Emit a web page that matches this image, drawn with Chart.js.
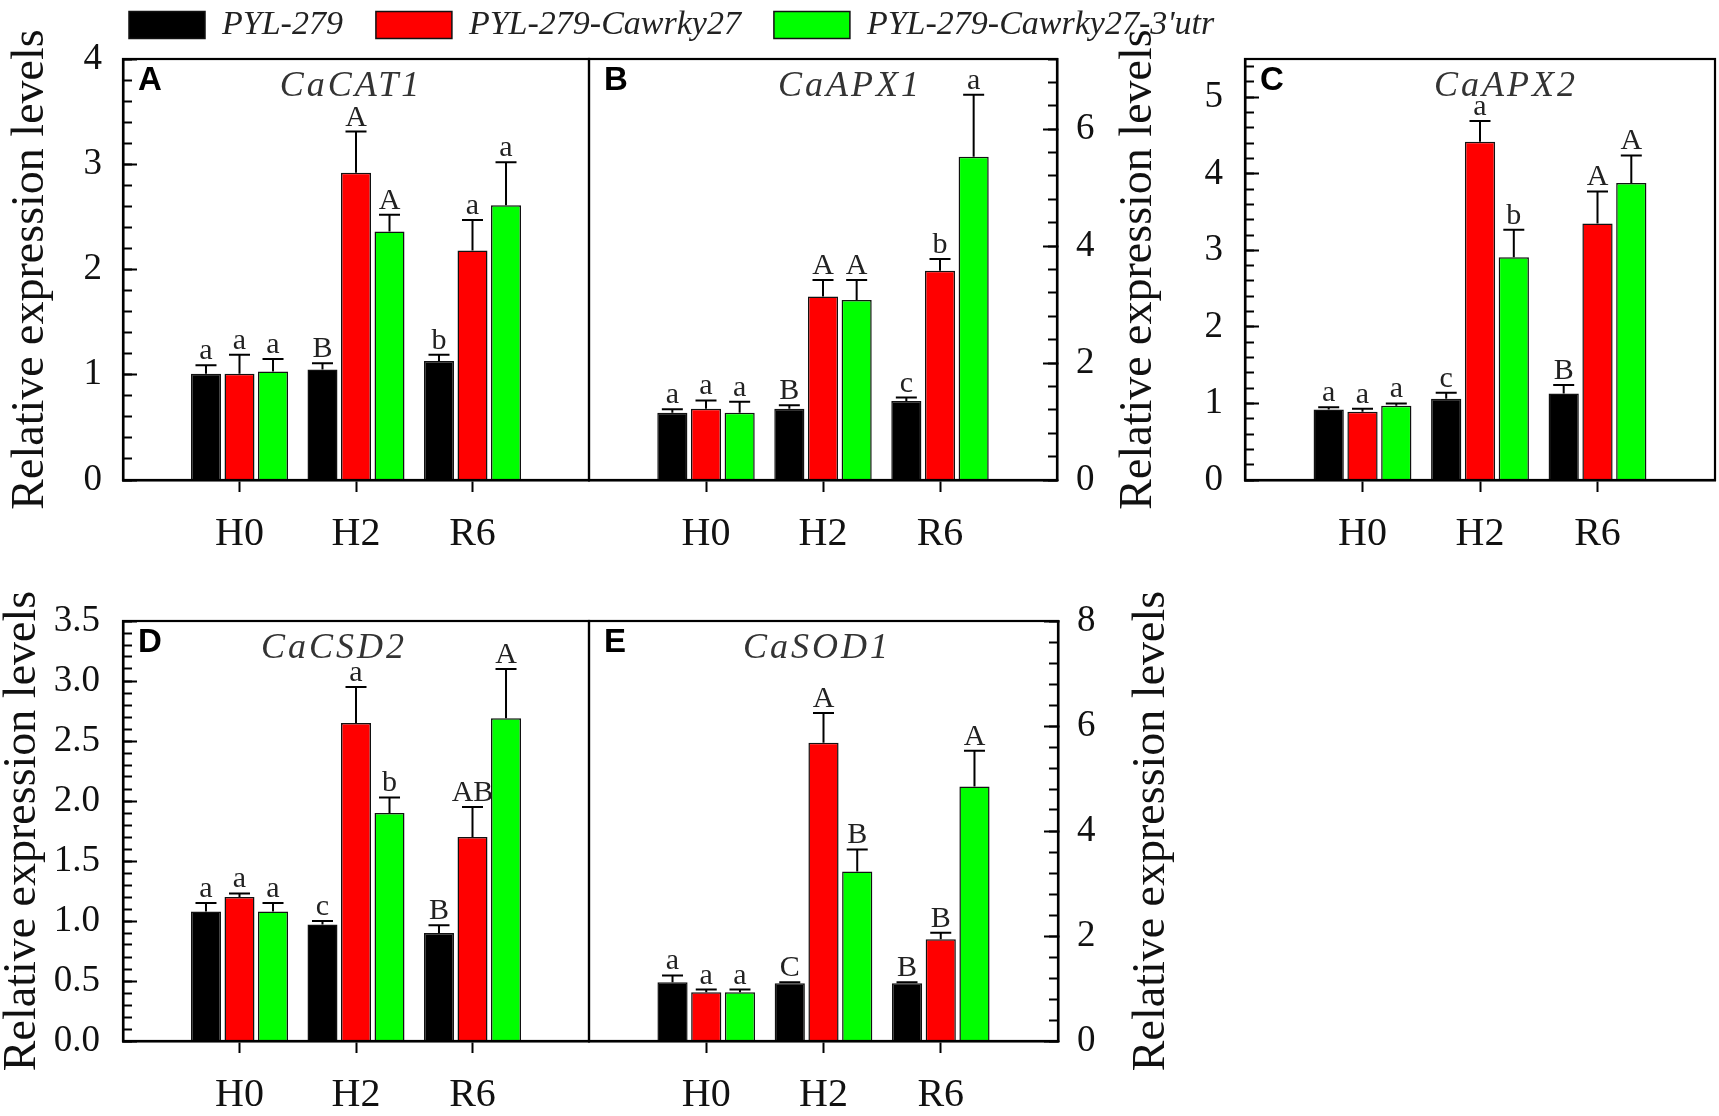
<!DOCTYPE html>
<html><head><meta charset="utf-8">
<script src="https://cdn.jsdelivr.net/npm/chart.js@4.4.1/dist/chart.umd.min.js"></script>
<style>
html,body{margin:0;padding:0;background:#fff;width:1719px;height:1116px;overflow:hidden;position:relative}
canvas{position:absolute}
</style></head><body>
<canvas id="legend"></canvas>
<canvas id="cA"></canvas><canvas id="cB"></canvas><canvas id="cC"></canvas>
<canvas id="cD"></canvas><canvas id="cE"></canvas>
<script>
// ---------- DATA ----------
const categories = ['H0', 'H2', 'R6'];
const seriesNames = ['PYL-279', 'PYL-279-Cawrky27', "PYL-279-Cawrky27-3'utr"];
const axisTitle = 'Relative expression levels';

// A: CaCAT1
const CaCAT1_PYL279 = [1.01, 1.05, 1.13];
const CaCAT1_PYL279_err = [0.08, 0.06, 0.06];
const CaCAT1_PYL279_sig = ['a', 'B', 'b'];
const CaCAT1_Cawrky27 = [1.01, 2.92, 2.18];
const CaCAT1_Cawrky27_err = [0.18, 0.39, 0.29];
const CaCAT1_Cawrky27_sig = ['a', 'A', 'a'];
const CaCAT1_utr = [1.03, 2.36, 2.61];
const CaCAT1_utr_err = [0.12, 0.16, 0.41];
const CaCAT1_utr_sig = ['a', 'A', 'a'];

// B: CaAPX1
const CaAPX1_PYL279 = [1.15, 1.22, 1.35];
const CaAPX1_PYL279_err = [0.06, 0.06, 0.06];
const CaAPX1_PYL279_sig = ['a', 'B', 'c'];
const CaAPX1_Cawrky27 = [1.22, 3.14, 3.58];
const CaAPX1_Cawrky27_err = [0.14, 0.28, 0.20];
const CaAPX1_Cawrky27_sig = ['a', 'A', 'b'];
const CaAPX1_utr = [1.15, 3.08, 5.53];
const CaAPX1_utr_err = [0.19, 0.34, 1.06];
const CaAPX1_utr_sig = ['a', 'A', 'a'];

// C: CaAPX2
const CaAPX2_PYL279 = [0.92, 1.06, 1.13];
const CaAPX2_PYL279_err = [0.03, 0.08, 0.11];
const CaAPX2_PYL279_sig = ['a', 'c', 'B'];
const CaAPX2_Cawrky27 = [0.89, 4.42, 3.35];
const CaAPX2_Cawrky27_err = [0.04, 0.27, 0.42];
const CaAPX2_Cawrky27_sig = ['a', 'a', 'A'];
const CaAPX2_utr = [0.97, 2.91, 3.88];
const CaAPX2_utr_err = [0.03, 0.36, 0.36];
const CaAPX2_utr_sig = ['a', 'b', 'A'];

// D: CaCSD2
const CaCSD2_PYL279 = [1.08, 0.97, 0.90];
const CaCSD2_PYL279_err = [0.07, 0.03, 0.065];
const CaCSD2_PYL279_sig = ['a', 'c', 'B'];
const CaCSD2_Cawrky27 = [1.20, 2.65, 1.70];
const CaCSD2_Cawrky27_err = [0.03, 0.30, 0.25];
const CaCSD2_Cawrky27_sig = ['a', 'a', 'AB'];
const CaCSD2_utr = [1.08, 1.90, 2.69];
const CaCSD2_utr_err = [0.07, 0.13, 0.41];
const CaCSD2_utr_sig = ['a', 'b', 'A'];

// E: CaSOD1
const CaSOD1_PYL279 = [1.12, 1.10, 1.10];
const CaSOD1_PYL279_err = [0.13, 0.02, 0.02];
const CaSOD1_PYL279_sig = ['a', 'C', 'B'];
const CaSOD1_Cawrky27 = [0.93, 5.68, 1.94];
const CaSOD1_Cawrky27_err = [0.05, 0.57, 0.12];
const CaSOD1_Cawrky27_sig = ['a', 'A', 'B'];
const CaSOD1_utr = [0.93, 3.23, 4.85];
const CaSOD1_utr_err = [0.05, 0.42, 0.68];
const CaSOD1_utr_sig = ['a', 'B', 'A'];

// axis ranges / tick steps (values)
const yMaxA = 4,   majorA = 1,   minorA = 0.2, decA = 0;
const yMaxB = 7.2, majorB = 2,   minorB = 0.4, decB = 0;
const yMaxC = 5.5, majorC = 1,   minorC = 0.2, decC = 0;
const yMaxD = 3.5, majorD = 0.5, minorD = 0.1, decD = 1;
const yMaxE = 8,   majorE = 2,   minorE = 0.4, decE = 0;

// ---------- STYLE ----------
const seriesColors = ['#000000', '#ff0000', '#00ff00'];
const SERIF = "'Liberation Serif','Times New Roman',serif";
const SANS = "'Liberation Sans',Arial,sans-serif";
const INK = '#111';

const panels = [
  {id:'cA', letter:'A', gene:'CaCAT1',
   data:[CaCAT1_PYL279, CaCAT1_Cawrky27, CaCAT1_utr],
   err:[CaCAT1_PYL279_err, CaCAT1_Cawrky27_err, CaCAT1_utr_err],
   sig:[CaCAT1_PYL279_sig, CaCAT1_Cawrky27_sig, CaCAT1_utr_sig],
   yMax:yMaxA, major:majorA, minor:minorA, dec:decA,
   L:123, R:589, T:59, B:480, side:'left', axisW:123, labelPad:35, titleCx:31, geneCx:351},
  {id:'cB', letter:'B', gene:'CaAPX1',
   data:[CaAPX1_PYL279, CaAPX1_Cawrky27, CaAPX1_utr],
   err:[CaAPX1_PYL279_err, CaAPX1_Cawrky27_err, CaAPX1_utr_err],
   sig:[CaAPX1_PYL279_sig, CaAPX1_Cawrky27_sig, CaAPX1_utr_sig],
   yMax:yMaxB, major:majorB, minor:minorB, dec:decB,
   L:589, R:1057, T:59, B:480, side:'right', axisW:55, labelPad:33, titleCx:null, geneCx:850},
  {id:'cC', letter:'C', gene:'CaAPX2',
   data:[CaAPX2_PYL279, CaAPX2_Cawrky27, CaAPX2_utr],
   err:[CaAPX2_PYL279_err, CaAPX2_Cawrky27_err, CaAPX2_utr_err],
   sig:[CaAPX2_PYL279_sig, CaAPX2_Cawrky27_sig, CaAPX2_utr_sig],
   yMax:yMaxC, major:majorC, minor:minorC, dec:decC,
   L:1245, R:1715, T:59, B:480, side:'left', axisW:140, labelPad:36, titleCx:1139, geneCx:1506},
  {id:'cD', letter:'D', gene:'CaCSD2',
   data:[CaCSD2_PYL279, CaCSD2_Cawrky27, CaCSD2_utr],
   err:[CaCSD2_PYL279_err, CaCSD2_Cawrky27_err, CaCSD2_utr_err],
   sig:[CaCSD2_PYL279_sig, CaCSD2_Cawrky27_sig, CaCSD2_utr_sig],
   yMax:yMaxD, major:majorD, minor:minorD, dec:decD,
   L:123, R:589, T:621, B:1041, side:'left', axisW:123, labelPad:37, titleCx:23, geneCx:334},
  {id:'cE', letter:'E', gene:'CaSOD1',
   data:[CaSOD1_PYL279, CaSOD1_Cawrky27, CaSOD1_utr],
   err:[CaSOD1_PYL279_err, CaSOD1_Cawrky27_err, CaSOD1_utr_err],
   sig:[CaSOD1_PYL279_sig, CaSOD1_Cawrky27_sig, CaSOD1_utr_sig],
   yMax:yMaxE, major:majorE, minor:minorE, dec:decE,
   L:589, R:1058, T:621, B:1041, side:'right', axisW:140, labelPad:33, titleCx:1152, geneCx:817}
];

function sizeCanvas(c, l, t, w, h){
  c.width = w; c.height = h;
  c.style.left = l + 'px'; c.style.top = t + 'px';
  c.style.width = w + 'px'; c.style.height = h + 'px';
}

function decoPlugin(p, cl, ct){
  return {
    id: 'deco' + p.id,
    afterDatasetsDraw(chart){
      const ctx = chart.ctx, ys = chart.scales.y;
      ctx.save();
      chart.data.datasets.forEach((ds, di) => {
        const meta = chart.getDatasetMeta(di);
        meta.data.forEach((el, j) => {
          const v = ds.data[j];
          if (v == null) return;
          const e = ds.errors[j];
          const x = el.x;
          const y0 = ys.getPixelForValue(v);
          const y1 = ys.getPixelForValue(v + e);
          ctx.strokeStyle = '#000'; ctx.lineWidth = 2;
          ctx.beginPath();
          ctx.moveTo(x, y0); ctx.lineTo(x, y1);
          ctx.moveTo(x - 10.5, y1); ctx.lineTo(x + 10.5, y1);
          ctx.stroke();
          ctx.fillStyle = '#222';
          ctx.font = '30px ' + SERIF;
          ctx.textAlign = 'center'; ctx.textBaseline = 'alphabetic';
          ctx.fillText(ds.sig[j], x, y1 - 6);
        });
      });
      ctx.restore();
    },
    afterDraw(chart){
      const ctx = chart.ctx, a = chart.chartArea;
      ctx.save();
      ctx.strokeStyle = '#000'; ctx.lineWidth = 2.2;
      ctx.strokeRect(a.left, a.top, a.right - a.left, a.bottom - a.top);
      // panel letter
      ctx.fillStyle = '#000';
      ctx.font = 'bold 33px ' + SANS;
      ctx.textAlign = 'left'; ctx.textBaseline = 'alphabetic';
      ctx.fillText(p.letter, a.left + 15, a.top + 31);
      // gene name
      ctx.fillStyle = '#333';
      ctx.font = 'italic 36px ' + SERIF;
      ctx.textAlign = 'center';
      ctx.letterSpacing = '3px';
      ctx.fillText(p.gene, p.geneCx - cl, a.top + 37);
      ctx.letterSpacing = '0px';
      // right-side axis title (reads bottom to top)
      if (p.side === 'right' && p.titleCx) {
        ctx.save();
        ctx.translate(p.titleCx - cl, (a.top + a.bottom) / 2);
        ctx.rotate(-Math.PI / 2);
        ctx.fillStyle = INK;
        ctx.font = '46px ' + SERIF;
        ctx.textAlign = 'center'; ctx.textBaseline = 'middle';
        ctx.fillText(axisTitle, 0, 0);
        ctx.restore();
      }
      ctx.restore();
    }
  };
}

function makePanel(p){
  const c = document.getElementById(p.id);
  const padSide = 24, padTop = 66, xAxisH = 74;
  const cl = p.side === 'left' ? p.L - p.axisW : p.L - padSide;
  const cr = p.side === 'right' ? p.R + p.axisW : p.R + padSide;
  const ct = p.T - padTop, cb = p.B + xAxisH;
  sizeCanvas(c, cl, ct, cr - cl, cb - ct);
  const labels = ['', ...categories, ''];
  const datasets = p.data.map((arr, i) => ({
    label: seriesNames[i],
    data: [null, ...arr, null],
    errors: [null, ...p.err[i], null],
    sig: [null, ...p.sig[i], null],
    backgroundColor: seriesColors[i],
    borderColor: INK,
    borderWidth: 1.5,
    categoryPercentage: 0.863,
    barPercentage: 0.895
  }));
  const yTitle = (p.side === 'left' && p.titleCx != null)
    ? {display: true, text: axisTitle, color: INK,
       font: {family: SERIF, size: 46, lineHeight: 1},
       padding: {top: p.titleCx - cl - 23, bottom: 0}}
    : {display: false};
  new Chart(c, {
    type: 'bar',
    data: {labels, datasets},
    options: {
      responsive: false, maintainAspectRatio: false, animation: false,
      layout: {padding: {left: p.side === 'left' ? 0 : padSide, right: p.side === 'right' ? 0 : padSide, top: padTop, bottom: 0}},
      plugins: {legend: {display: false}, tooltip: {enabled: false}},
      scales: {
        x: {
          type: 'category', offset: false,
          grid: {offset: false, drawOnChartArea: false, drawTicks: true, tickLength: 12, tickWidth: 2,
                 tickColor: (ctx) => (ctx.tick && ctx.tick.label) ? '#000' : 'rgba(0,0,0,0)'},
          border: {display: true, color: '#000', width: 2.5},
          ticks: {autoSkip: false, maxRotation: 0, color: INK, padding: 18,
                  font: {family: SERIF, size: 40}},
          afterFit: (s) => { s.height = xAxisH; }
        },
        y: {
          type: 'linear', position: p.side, min: 0, max: p.yMax, weight: 1,
          grid: {drawOnChartArea: false, drawTicks: true, tickLength: -14, tickWidth: 2, tickColor: '#000'},
          border: {display: true, color: '#000', width: 2.5},
          ticks: {stepSize: p.major, includeBounds: false, autoSkip: false, maxTicksLimit: 100,
                  color: INK, padding: p.labelPad, font: {family: SERIF, size: 37},
                  callback: (v) => Number(v).toFixed(p.dec)},
          title: yTitle,
          afterFit: (s) => { s.width = p.axisW; }
        },
        y2: {
          type: 'linear', position: p.side, min: 0, max: p.yMax, weight: 0,
          grid: {drawOnChartArea: false, drawTicks: true, tickLength: -9, tickWidth: 2, tickColor: '#000'},
          border: {display: false},
          ticks: {display: false, stepSize: p.minor, includeBounds: false, autoSkip: false, maxTicksLimit: 100},
          afterFit: (s) => { s.width = 0; }
        }
      }
    },
    plugins: [decoPlugin(p, cl, ct)]
  });
}

// legend chart
(function(){
  const c = document.getElementById('legend');
  sizeCanvas(c, 0, -25, 1320, 300);
  new Chart(c, {
    type: 'bar',
    data: {labels: [], datasets: seriesNames.map((n, i) => ({
      label: n, data: [], backgroundColor: seriesColors[i], borderColor: INK, borderWidth: 1.5}))},
    options: {
      responsive: false, maintainAspectRatio: false, animation: false,
      layout: {padding: {left: 96, top: 0, right: 0, bottom: 0}},
      scales: {x: {display: false}, y: {display: false}},
      plugins: {
        tooltip: {enabled: false},
        legend: {display: true, position: 'top', align: 'start',
          onClick: null,
          labels: {boxWidth: 76, boxHeight: 27, padding: 33, color: '#222',
                   font: {family: SERIF, size: 34, style: 'italic'}}}
      }
    }
  });
})();

panels.forEach(makePanel);
</script>
</body></html>
